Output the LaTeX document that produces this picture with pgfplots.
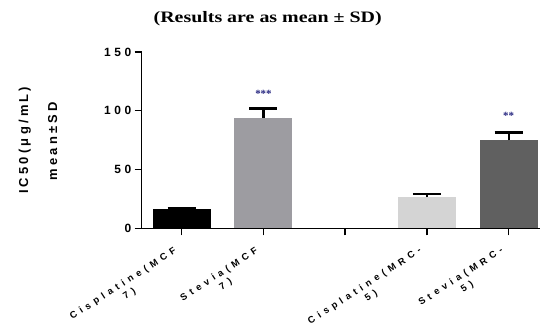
\documentclass[border=0pt]{standalone}
\usepackage{pgfplots}
\pgfplotsset{compat=1.18}
\usepackage{fontspec}
\setmainfont{Liberation Serif}
\newfontfamily\ticklab[LetterSpace=30]{Liberation Sans}
\newfontfamily\xlab[LetterSpace=45]{Liberation Sans}
\newfontfamily\ylab[LetterSpace=25]{Liberation Sans}
\definecolor{cA}{HTML}{000000}
\definecolor{cB}{HTML}{9D9CA1}
\definecolor{cC}{HTML}{D4D4D4}
\definecolor{cD}{HTML}{606060}
\begin{document}
\begin{tikzpicture}
\begin{axis}[
  at={(0,0)}, anchor=south west,
  scale only axis, width=398bp, height=176.3bp,
  xmin=-0.49, xmax=4.38, ymin=0, ymax=150,
  axis lines=left,
  axis line style={line width=1.6pt, -},
  xtick={0,1,2,3,4},
  xticklabels={{Cisplatine(MCF\\7)},{Stevia(MCF\\7)},{},{Cisplatine(MRC-\\5)},{Stevia(MRC-\\5)}},
  ytick={0,50,100,150},
  tick style={line width=1.4pt, black},
  tick align=outside, major tick length=7bp,
  x tick label style={font=\xlab\bfseries\fontsize{9.5}{12}\selectfont, rotate=33, anchor=north east, align=center, xshift=-10bp, yshift=-1bp},
  y tick label style={font=\ticklab\bfseries\fontsize{12}{13}\selectfont},
  /pgf/number format/assume math mode=true,
  ybar, bar width=58bp,
  error bars/y dir=plus, error bars/y explicit,
  error bars/error bar style={line width=2.2pt, black},
  error bars/error mark options={line width=2.2pt, black, mark size=14bp, rotate=90},
  clip=false,
]
\addplot[fill=cA, draw=none, bar shift=0pt] coordinates {(0,16.5) +- (0,1.0)};
\addplot[fill=cB, draw=none, bar shift=0pt] coordinates {(1,94) +- (0,8)};
\addplot[fill=cC, draw=none, bar shift=0pt] coordinates {(3,26.5) +- (0,2.5)};
\addplot[fill=cD, draw=none, bar shift=0pt] coordinates {(4,75) +- (0,6.5)};
\node[font=\bfseries\fontsize{11}{12}\selectfont, text=black!50!blue!70!gray] at (axis cs:1,114.5) {***};
\node[font=\bfseries\fontsize{11}{12}\selectfont, text=black!50!blue!70!gray] at (axis cs:4,95.5) {**};
\end{axis}
\node[xscale=1.25, font=\bfseries\fontsize{16}{18}\selectfont] at (126bp,210bp) {(Results are as mean ± SD)};
\node[rotate=90, font=\ylab\bfseries\fontsize{13}{14}\selectfont] at (-117bp,88bp) {IC50(μg/mL)};
\node[rotate=90, font=\ylab\bfseries\fontsize{13}{14}\selectfont] at (-89bp,87bp) {mean±SD};
\pgfresetboundingbox
\path (-141.7bp,-96.7bp) rectangle (399.3bp,228.3bp);
\end{tikzpicture}
\end{document}
